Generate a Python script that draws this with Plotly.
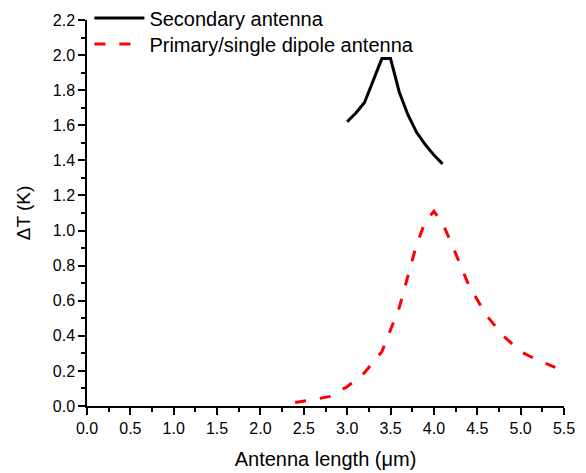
import plotly.graph_objects as go

# Data
sec_x = [3.0, 3.1, 3.2, 3.3, 3.4, 3.5, 3.6, 3.7, 3.8, 3.9, 4.0, 4.1]
sec_y = [1.62, 1.67, 1.73, 1.85, 1.98, 1.98, 1.79, 1.66, 1.56, 1.49, 1.43, 1.38]

pri_x = [2.4, 2.6, 2.8, 3.0, 3.2, 3.4, 3.6, 3.8, 3.9, 4.0, 4.1, 4.2, 4.4, 4.6, 4.8, 5.0, 5.2, 5.4]
pri_y = [0.02, 0.035, 0.055, 0.11, 0.19, 0.31, 0.56, 0.92, 1.05, 1.11, 1.04, 0.93, 0.69, 0.52, 0.40, 0.31, 0.26, 0.22]

x_ticks = [0.0, 0.5, 1.0, 1.5, 2.0, 2.5, 3.0, 3.5, 4.0, 4.5, 5.0, 5.5]
y_ticks = [0.0, 0.2, 0.4, 0.6, 0.8, 1.0, 1.2, 1.4, 1.6, 1.8, 2.0, 2.2]

FONT = "Arial, Liberation Sans, sans-serif"

fig = go.Figure()
fig.add_trace(go.Scatter(x=sec_x, y=sec_y, mode="lines", name="Secondary antenna",
                         line=dict(color="black", width=3), legend="legend", showlegend=True))
fig.add_trace(go.Scatter(x=pri_x, y=pri_y, mode="lines", name="Primary/single dipole antenna",
                         line=dict(color="#ff0000", width=3, dash="11px,14px"), legend="legend2",
                         showlegend=True))

axis_common = dict(showline=True, linecolor="black", linewidth=1.5, mirror=False,
                   ticks="outside", ticklen=7, tickwidth=1.5, tickcolor="black",
                   showgrid=False, zeroline=False,
                   tickfont=dict(family=FONT, size=16, color="black"))

fig.update_xaxes(range=[0, 5.5], tickvals=x_ticks,
                 ticktext=[f"{v:.1f}" for v in x_ticks],
                 minor=dict(ticks="outside", ticklen=4, tickwidth=1.5, tickcolor="black", dtick=0.25),
                 title=dict(text="Antenna length (\u03bcm)", font=dict(family=FONT, size=20, color="black"),
                            standoff=16),
                 **axis_common)
fig.update_yaxes(range=[0, 2.2], tickvals=y_ticks,
                 ticktext=[f"{v:.1f}" for v in y_ticks],
                 minor=dict(ticks="outside", ticklen=4, tickwidth=1.5, tickcolor="black", dtick=0.1),
                 title=dict(text="\u0394T (K)", font=dict(family=FONT, size=19, color="black"),
                            standoff=17),
                 **axis_common)

leg_common = dict(x=0.005, xanchor="left", yanchor="middle", visible=True,
                  bgcolor="rgba(0,0,0,0)", font=dict(family=FONT, size=20, color="black"),
                  itemwidth=50)

fig.update_layout(
    width=586, height=473,
    showlegend=True,
    margin=dict(l=87, r=22, t=20, b=67, autoexpand=False),
    plot_bgcolor="white", paper_bgcolor="white",
    font=dict(family=FONT, color="black"),
    legend=dict(y=1.005, **leg_common),
    legend2=dict(y=0.938, **leg_common),
)

fig.write_html("out.html")
